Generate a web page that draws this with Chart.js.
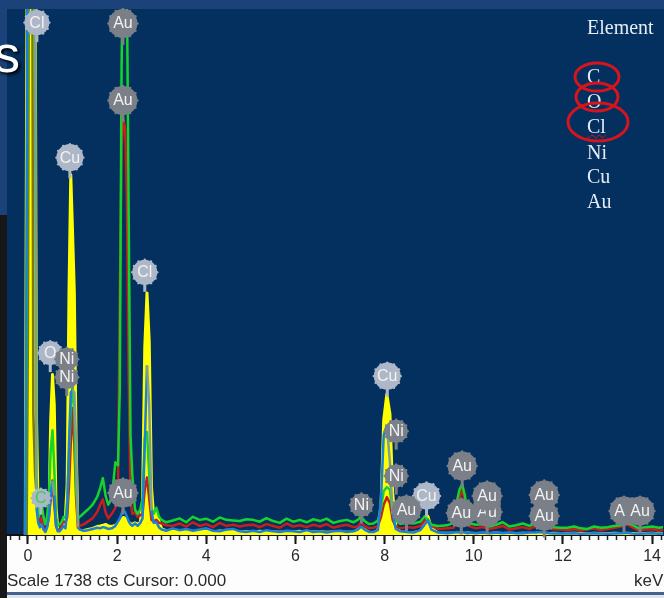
<!DOCTYPE html>
<html>
<head>
<meta charset="utf-8">
<script src="https://cdn.jsdelivr.net/npm/chart.js@4"></script>
<style>
  html, body { margin: 0; padding: 0; width: 664px; height: 598px; overflow: hidden; background: #1b4379; }
  .box { position: absolute; }
  #leftDark { left: 0; top: 215px; width: 7px; height: 383px; background: #171717; }
  #plotBg { left: 7px; top: 9px; width: 657px; height: 527px; background: #03305f; }
  #axisBg { left: 7px; top: 536px; width: 657px; height: 56px; background: #fdfdfd; }
  #edge { left: 7px; top: 592px; width: 657px; height: 3px; background: #47618f; }
  #foot { left: 7px; top: 595px; width: 657px; height: 3px; background: #dfe3ea; }
  canvas { position: absolute; left: 0; top: 0; filter: blur(0.6px); }
  .status { position: absolute; font: 17px "Liberation Sans", Arial, sans-serif; color: #2a2a2a; top: 572px; line-height: 18px; filter: blur(0.3px); }
  .bigS { position: absolute; left: -6px; top: 24px; font: 52px/60px "Liberation Sans", Arial, sans-serif; color: #fff; text-shadow: 2px 2px 3px #000; }
  .el { position: absolute; left: 587px; font: 20px/20px "Liberation Serif", "Times New Roman", serif; color: #e6ecf3; }
  svg { position: absolute; left: 0; top: 0; }
</style>
</head>
<body>
<div class="box" id="leftDark"></div>
<div class="box" id="plotBg"></div>
<div class="box" id="axisBg"></div>
<div class="box" id="edge"></div>
<div class="box" id="foot"></div>
<canvas id="spectrum" width="664" height="598"></canvas>
<div class="bigS">s</div>
<div id="elements"></div>
<svg width="664" height="598">
  <ellipse cx="597" cy="77" rx="22" ry="14" fill="none" stroke="#d6141c" stroke-width="3"/>
  <ellipse cx="597" cy="97" rx="21" ry="14" fill="none" stroke="#d6141c" stroke-width="3"/>
  <ellipse cx="598" cy="122" rx="30" ry="19" fill="none" stroke="#d6141c" stroke-width="3"/>
</svg>
<div class="status" style="left:7px">Scale 1738 cts Cursor: 0.000</div>
<div class="status" style="left:634px">keV</div>

<script>
// energy grid, keV
const energy = [
  -0.06, -0.03, 0.0, 0.04, 0.08, 0.12, 0.16, 0.19, 0.23,
  0.27, 0.31, 0.35, 0.39, 0.43, 0.47, 0.51, 0.55, 0.59, 0.63, 0.67, 0.71,
  0.76, 0.8, 0.84, 0.88, 0.92, 0.96, 1.0, 1.04, 1.08, 1.12, 1.16,
  1.25, 1.35, 1.45, 1.55, 1.62, 1.68, 1.74, 1.8, 1.88, 1.96,
  2.02, 2.06, 2.1, 2.14, 2.18, 2.22, 2.26, 2.3, 2.34, 2.4, 2.46, 2.52,
  2.57, 2.62, 2.67, 2.72, 2.77, 2.82, 2.88, 2.94, 3.0, 3.1,
  3.25, 3.4, 3.55, 3.7, 3.85, 4.0, 4.15, 4.3, 4.45, 4.6, 4.75, 4.9,
  5.05, 5.2, 5.35, 5.5, 5.65, 5.8, 5.95, 6.1, 6.25, 6.4, 6.55, 6.7, 6.85, 7.0, 7.15, 7.3,
  7.4, 7.47, 7.55, 7.65, 7.75, 7.85, 7.92, 7.98, 8.05, 8.12, 8.18, 8.25, 8.35, 8.5, 8.65, 8.8, 8.9, 8.97, 9.05, 9.2, 9.4,
  9.55, 9.62, 9.68, 9.74, 9.8, 9.86, 9.92, 10.05, 10.2, 10.35, 10.5, 10.65, 10.8, 10.95, 11.1, 11.25, 11.4, 11.5, 11.6, 11.7, 11.8, 11.95,
  12.1, 12.25, 12.4, 12.55, 12.7, 12.85, 13.0, 13.15, 13.3, 13.42, 13.55, 13.7, 13.85, 14.0, 14.15, 14.3
];
const yellowCts = [
  0, 1500, 2400, 3200, 3200, 2600, 1900, 400, 60,
  25, 18, 12, 10, 14, 60, 380, 530, 430, 90, 20, 8,
  10, 15, 60, 170, 800, 1190, 1000, 800, 300, 25, 12,
  15, 18, 22, 28, 30, 32, 35, 30, 28, 32,
  38, 42, 50, 58, 55, 48, 42, 38, 35, 40, 35, 42,
  110, 620, 800, 640, 160, 60, 75, 45, 20, 14,
  13, 12, 14, 11, 13, 12, 10, 13, 11, 12, 10, 11,
  10, 12, 10, 11, 9, 11, 10, 12, 9, 10, 11, 9, 10, 11, 9, 10,
  18, 25, 18, 8, 8, 14, 100, 380, 465, 400, 140, 30, 10, 8, 8, 12, 35, 62, 22, 7, 6,
  6, 5, 7, 6, 5, 7, 6, 5, 6, 5, 7, 5, 6, 5, 6, 5, 6, 7, 6, 5, 6, 5,
  5, 6, 5, 4, 6, 5, 4, 6, 5, 6, 5, 4, 5, 6, 4, 5
];
const redCts = [
  0, 0, 700, 3200, 3000, 400, 200, 140, 60,
  40, 60, 20, 15, 30, 60, 120, 180, 100, 30, 15, 18,
  35, 45, 40, 60, 160, 300, 420, 300, 120, 25, 30,
  35, 45, 55, 75, 100, 118, 75, 55, 70, 90,
  160, 800, 1280, 1376, 1340, 1100, 520, 120, 70, 75, 60, 65,
  70, 150, 190, 120, 50, 45, 50, 40, 38, 32,
  30, 38, 28, 42, 30, 36, 26, 40, 30, 34, 28, 32,
  34, 26, 36, 30, 24, 38, 28, 32, 26, 34, 28, 36, 24, 30, 34, 26,
  28, 42, 30, 22, 24, 30, 60, 100, 125, 105, 50, 28, 22, 26, 24, 30, 48, 52, 30, 20, 22,
  24, 60, 120, 150, 115, 55, 28, 22, 26, 20, 24, 30, 18, 22, 26, 20, 30, 36, 26, 22, 20, 18,
  16, 20, 14, 18, 22, 16, 20, 24, 28, 36, 26, 14, 18, 20, 14, 18
];
const greenCts = [
  0, 700, 2200, 3000, 3000, 2400, 1500, 200, 60,
  70, 100, 60, 35, 60, 130, 280, 346, 220, 60, 30, 35,
  45, 60, 55, 110, 260, 430, 490, 400, 150, 55, 60,
  72, 85, 100, 125, 155, 188, 130, 100, 120, 240,
  230, 480, 1550, 2000, 2200, 1800, 1040, 330, 200, 85, 70, 85,
  120, 320, 340, 200, 90, 70, 90, 60, 50, 42,
  48, 55, 42, 60, 50, 54, 44, 58, 50, 48, 46, 52,
  50, 44, 56, 46, 40, 54, 44, 50, 42, 52, 46, 54, 40, 46, 50, 42,
  50, 62, 46, 36, 38, 48, 90, 145, 158, 150, 70, 48, 36, 40, 38, 44, 62, 50, 34, 30, 32,
  40, 110, 150, 168, 130, 70, 38, 34, 36, 28, 34, 42, 28, 32, 38, 30, 40, 50, 36, 32, 26, 24,
  24, 28, 22, 20, 28, 24, 26, 30, 32, 40, 34, 22, 26, 28, 24, 26
];
const blueCts = [
  0, 1000, 2500, 3300, 3500, 3300, 1900, 90, 40,
  25, 35, 18, 10, 25, 60, 130, 180, 130, 30, 12, 12,
  22, 30, 22, 80, 300, 470, 480, 470, 300, 25, 18,
  14, 16, 20, 24, 22, 26, 24, 20, 22, 30,
  45, 55, 70, 85, 75, 60, 45, 35, 30, 38, 30, 40,
  55, 300, 560, 430, 80, 40, 42, 25, 18, 14,
  22, 16, 20, 14, 18, 22, 14, 12, 18, 20, 12, 10,
  14, 10, 16, 12, 10, 14, 12, 10, 16, 10, 12, 8, 12, 14, 10, 12,
  18, 28, 18, 10, 10, 16, 120, 330, 363, 240, 70, 20, 12, 10, 8, 16, 35, 48, 18, 8, 6,
  8, 10, 8, 10, 8, 6, 8, 6, 8, 6, 8, 6, 8, 6, 6, 8, 8, 10, 8, 6, 5, 6,
  5, 6, 4, 5, 6, 5, 4, 5, 6, 7, 5, 4, 5, 6, 4, 5
];

// peak markers, drawn in this order
const markerNames = ['Cl','Au','Au','Cu','Cl','O','Ni','Ni','C','Au','Cu','Ni','Ni','Ni','Cu','Au','Au','Au','Au','Au','Au','Au','Au','Au'];
const markerKev = [0.20,2.13,2.13,0.94,2.62,0.50,0.87,0.87,0.29,2.13,8.06,8.26,8.26,7.48,8.94,8.49,9.74,9.72,10.30,10.30,11.58,11.58,13.37,13.73];
const markerCts = [1693,1690,1436,1247,868,601,581,521,122,139,525,343,195,99,129,83,228,73,76,129,132,63,79,79];
const selectedElements = ['Cl','Cu','O','C'];

const elementNames = ['Element','C','O','Cl','Ni','Cu','Au'];
const elementTops = [17,66,91,116,142,166,191];
const majorTicks = [0,2,4,6,8,10,12,14];
const fullScale = 1738;

const badgeRadius = { Au: 14.5, Cu: 13.5, Cl: 12.5, Ni: 11.5, O: 12, C: 9.5 };

const elementBox = document.getElementById('elements');
elementNames.forEach((name, i) => {
  const d = document.createElement('div');
  d.className = 'el';
  d.style.top = elementTops[i] + 'px';
  if (name === 'Cl') d.style.textDecoration = 'underline wavy #d6141c 1px';
  d.textContent = name;
  elementBox.appendChild(d);
});

function points(values) {
  return energy.map((e, i) => ({ x: e, y: values[i] }));
}

// the falling side of a tall peak shows grey-green in the original
function blueSegment(ctx) {
  if (ctx.p0.parsed.y > 150 && ctx.p1.parsed.y < ctx.p0.parsed.y) return '#7f9f96';
  return undefined;
}
function redSegment(ctx) {
  if (ctx.p0.parsed.x < 0.2) return '#7f7608';
  return undefined;
}

const peakMarkers = {
  id: 'peakMarkers',
  afterDatasetsDraw(chart) {
    const c = chart.ctx;
    const xs = chart.scales.x, ys = chart.scales.y;
    markerNames.forEach((name, i) => {
      const px = xs.getPixelForValue(markerKev[i]);
      const py = ys.getPixelForValue(markerCts[i]);
      const r = badgeRadius[name];
      const fill = selectedElements.includes(name) ? '#aeb7c8' : '#7b7f87';
      c.save();
      c.fillStyle = fill;
      c.fillRect(px - 1.5, py + r - 3, 3, 10);
      c.beginPath();
      c.arc(px, py, r, 0, Math.PI * 2);
      c.fill();
      // scalloped rim
      for (let a = 0; a < 12; a++) {
        const t = a * Math.PI / 6;
        c.beginPath();
        c.arc(px + Math.cos(t) * r, py + Math.sin(t) * r, 1.2, 0, Math.PI * 2);
        c.fill();
      }
      c.fillStyle = name === 'C' ? '#2fd648' : '#f2f2f2';
      c.font = '16px "Liberation Sans", Arial, sans-serif';
      c.textAlign = 'center';
      c.textBaseline = 'middle';
      c.fillText(name, px, py + 0.5);
      c.restore();
    });
  }
};

new Chart(document.getElementById('spectrum'), {
  type: 'scatter',
  data: {
    datasets: [
      { label: 'blue', data: points(blueCts), showLine: true, borderColor: '#1c7fd8', borderWidth: 2.5, borderJoinStyle: 'round', pointRadius: 0, segment: { borderColor: blueSegment } },
      { label: 'green', data: points(greenCts), showLine: true, borderColor: '#14d52c', borderWidth: 2.5, borderJoinStyle: 'round', pointRadius: 0 },
      { label: 'red', data: points(redCts), showLine: true, borderColor: '#c81e1c', borderWidth: 2.5, borderJoinStyle: 'round', pointRadius: 0, segment: { borderColor: redSegment } },
      { label: 'yellow', data: points(yellowCts), showLine: true, fill: 'origin', borderColor: '#ffff00', backgroundColor: '#ffff00', borderWidth: 3, borderJoinStyle: 'round', pointRadius: 0 }
    ]
  },
  options: {
    responsive: false,
    animation: false,
    devicePixelRatio: 1,
    layout: { padding: { left: 7, top: 9, right: 0, bottom: 0 } },
    plugins: { legend: { display: false }, tooltip: { enabled: false } },
    scales: {
      x: {
        type: 'linear', position: 'bottom', weight: 1,
        min: (7 - 28) / 44.65, max: (664 - 28) / 44.65,
        afterBuildTicks: s => { s.ticks = majorTicks.map(v => ({ value: v })); },
        afterFit: s => { s.height = 63; },
        border: { display: true, color: '#111', width: 2 },
        grid: { drawOnChartArea: false, drawTicks: true, tickLength: 9, tickColor: '#111', tickWidth: 2 },
        ticks: { autoSkip: false, maxRotation: 0, padding: 3, color: '#2a2a2a', font: { family: '"Liberation Sans", Arial, sans-serif', size: 16 } }
      },
      x2: {
        type: 'linear', position: 'bottom', weight: 0,
        min: (7 - 28) / 44.65, max: (664 - 28) / 44.65,
        afterBuildTicks: s => {
          const t = [];
          for (let i = -2; i <= 71; i++) t.push({ value: i * 0.2 });
          s.ticks = t;
        },
        afterFit: s => { s.height = 0; },
        border: { display: false },
        grid: { drawOnChartArea: false, drawTicks: true, tickLength: 5, tickColor: '#222', tickWidth: 1.5 },
        ticks: { display: false, autoSkip: false }
      },
      y: { display: false, min: 0, max: fullScale }
    }
  },
  plugins: [peakMarkers]
});
</script>
</body>
</html>
